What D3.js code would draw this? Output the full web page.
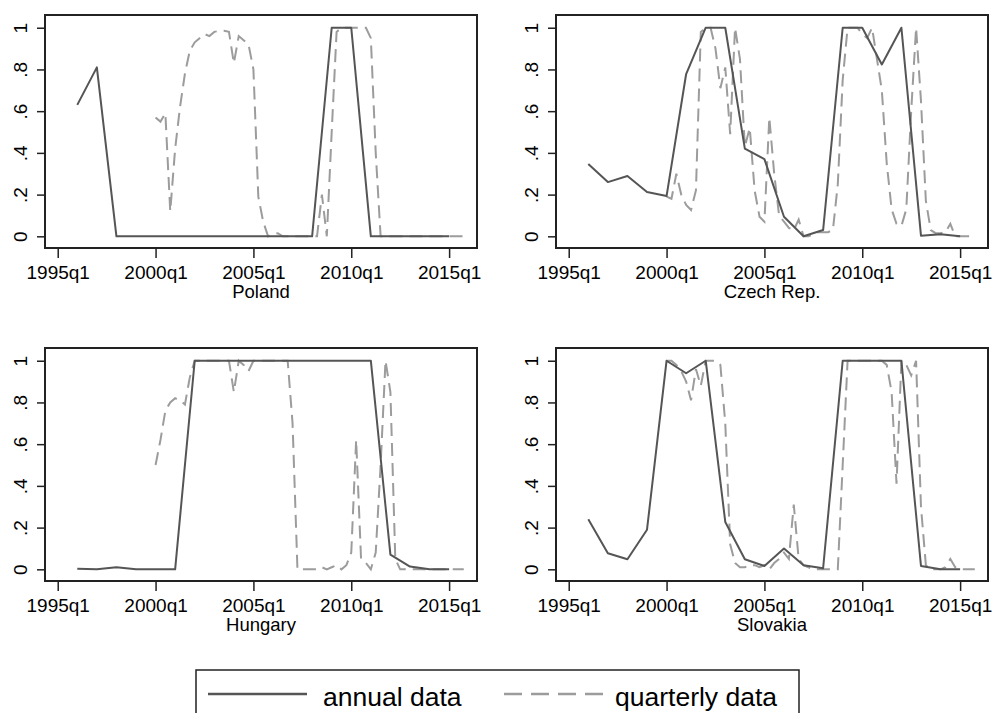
<!DOCTYPE html>
<html>
	<head>
		<meta charset="utf-8">
		<script src="https://d3js.org/d3.v7.min.js"></script>
	</head>
	<body style="margin:0;background:#fff">
		<svg id="chart" width="994" height="713"></svg>
	</body>
	<script>
	// Countries, tick labels and years
	var countries = ["Poland", "Czech Rep.", "Hungary", "Slovakia"];
	var xTickLabels = ["1995q1", "2000q1", "2005q1", "2010q1", "2015q1"];
	var yTickValues = [0, 0.2, 0.4, 0.6, 0.8, 1];
	var yTickLabels = ["0", ".2", ".4", ".6", ".8", "1"];
	var annualYears = [1996, 1997, 1998, 1999, 2000, 2001, 2002, 2003, 2004, 2005,
		2006, 2007, 2008, 2009, 2010, 2011, 2012, 2013, 2014, 2015];
	var quarterYears = [2000, 2001, 2002, 2003, 2004, 2005, 2006, 2007,
		2008, 2009, 2010, 2011, 2012, 2013, 2014, 2015];

	// Annual series (one value per year, 1996-2015)
	var annualPoland = [0.63, 0.81, 0, 0, 0, 0, 0, 0, 0, 0, 0, 0, 0, 1, 1, 0, 0, 0, 0, 0];
	var annualCzech = [0.347, 0.26, 0.289, 0.212, 0.193, 0.778, 1, 1, 0.42, 0.37,
		0.094, 0, 0.03, 1, 1, 0.824, 1, 0.003, 0.01, 0];
	var annualHungary = [0.003, 0, 0.01, 0, 0, 0, 1, 1, 1, 1, 1, 1, 1, 1, 1, 1, 0.07, 0.013, 0, 0];
	var annualSlovakia = [0.24, 0.077, 0.048, 0.19, 1, 0.94, 1, 0.227, 0.048, 0.016,
		0.1, 0.02, 0.005, 1, 1, 1, 1, 0.016, 0, 0];

	// Quarterly series (four values per year, 2000q1-2015q4)
	var quarterlyPoland = [
		0.57, 0.55, 0.59, 0.12,
		0.42, 0.62, 0.78, 0.89,
		0.93, 0.95, 0.97, 0.96,
		0.98, 0.985, 0.985, 0.98,
		0.83, 0.96, 0.94, 0.92,
		0.8, 0.19, 0.07, 0,
		0.01, 0.015, 0, 0,
		0, 0, 0, 0,
		0, 0, 0.2, 0,
		0.5, 0.98, 1, 1,
		1, 1, 1, 1,
		0.95, 0.4, 0, 0,
		0, 0, 0, 0,
		0, 0, 0, 0,
		0, 0, 0, 0,
		0, 0, 0, 0];
	var quarterlyCzech = [
		0.19, 0.18, 0.3, 0.2,
		0.15, 0.126, 0.22, 0.98,
		1, 1, 0.9, 0.71,
		0.81, 0.49, 1, 0.85,
		0.43, 0.52, 0.22, 0.094,
		0.07, 0.57, 0.3, 0.1,
		0.07, 0.04, 0.03, 0.08,
		0, 0, 0.01, 0.02,
		0.02, 0.02, 0.03, 0.25,
		0.75, 1, 1, 1,
		0.97, 0.95, 1, 0.85,
		0.7, 0.35, 0.13, 0.06,
		0.05, 0.13, 0.6, 1,
		0.65, 0.17, 0.03, 0.015,
		0.015, 0.02, 0.06, 0,
		0, 0, 0, 0];
	var quarterlyHungary = [
		0.5, 0.62, 0.76, 0.8,
		0.82, 0.81, 0.79, 0.92,
		1, 1, 1, 1,
		1, 1, 1, 1,
		0.85, 1, 0.98, 0.95,
		1, 1, 1, 1,
		1, 1, 1, 1,
		0.7, 0, 0, 0,
		0, 0, 0.01, 0,
		0.01, 0.02, 0, 0.02,
		0.08, 0.62, 0.05, 0.03,
		0, 0.08, 0.5, 1,
		0.85, 0.05, 0, 0,
		0, 0, 0, 0,
		0, 0, 0, 0,
		0, 0, 0, 0];
	var quarterlySlovakia = [
		1, 1, 0.98, 0.95,
		0.9, 0.81, 0.96, 0.88,
		1, 1, 1, 0.98,
		0.7, 0.12, 0.03, 0.01,
		0.01, 0.02, 0.02, 0.01,
		0.02, 0, 0.03, 0.05,
		0.08, 0.05, 0.31, 0.05,
		0.02, 0.01, 0, 0,
		0, 0, 0, 0,
		0.5, 1, 1, 1,
		1, 1, 1, 1,
		1, 0.98, 0.85, 0.41,
		1, 0.98, 0.93, 1,
		0.3, 0.02, 0, 0,
		0, 0.01, 0.05, 0.01,
		0, 0, 0, 0];

	var annualSeries = [annualPoland, annualCzech, annualHungary, annualSlovakia];
	var quarterlySeries = [quarterlyPoland, quarterlyCzech, quarterlyHungary, quarterlySlovakia];

	// The svg
	var svg = d3.select("#chart");
	var font = "'Liberation Sans', Arial, sans-serif";
	var annualColor = "#555555", quarterlyColor = "#9c9c9c";

	// Panel layout
	var panelW = 432, panelH = 233;
	var panelPos = [[45, 15], [556, 15], [45, 348], [556, 348]];

	// Scales: x in quarters since 1995q1
	var x = d3.scaleLinear().domain([-2.6, 85.7]).range([0, panelW]);
	var y = d3.scaleLinear().domain([-0.056, 1.061]).range([panelH, 0]);

	var line = d3.line()
		.x(function(d){ return x(d[0]) })
		.y(function(d){ return y(d[1]) });

	// quarter index of a year / quarter
	function qIndex(year, q) { return (year - 1995) * 4 + q; }

	var quarterIdx = [];
	quarterYears.forEach(function(yr){
		for (var q = 0; q < 4; q++) quarterIdx.push(qIndex(yr, q));
	});

	countries.forEach(function(name, i){
		var g = svg.append("g")
			.attr("transform", "translate(" + panelPos[i][0] + "," + panelPos[i][1] + ")");

		// quarterly data (dashed)
		var qData = quarterlySeries[i].map(function(v, k){ return [quarterIdx[k], v] });
		g.append("path")
			.attr("d", line(qData))
			.style("fill", "none")
			.style("stroke", quarterlyColor)
			.style("stroke-width", 2)
			.style("stroke-dasharray", "13,7");

		// annual data (solid)
		var aData = annualSeries[i].map(function(v, k){ return [qIndex(annualYears[k], 0), v] });
		g.append("path")
			.attr("d", line(aData))
			.style("fill", "none")
			.style("stroke", annualColor)
			.style("stroke-width", 2)
			.style("stroke-linejoin", "round");

		// frame
		g.append("rect")
			.attr("width", panelW)
			.attr("height", panelH)
			.style("fill", "none")
			.style("stroke", "#222")
			.style("stroke-width", 2);

		// x axis
		var xAxis = g.append("g")
			.attr("transform", "translate(0," + panelH + ")")
			.call(d3.axisBottom(x)
				.tickValues([0, 20, 40, 60, 80])
				.tickFormat(function(d, k){ return xTickLabels[k] })
				.tickSize(10));
		xAxis.select(".domain").remove();
		xAxis.selectAll("line").style("stroke", "#222").style("stroke-width", 1.5);
		xAxis.selectAll("text")
			.attr("y", 31).attr("dy", 0)
			.style("font-family", font).style("font-size", "19px").style("fill", "#000");

		// y axis
		var yAxis = g.append("g")
			.call(d3.axisLeft(y)
				.tickValues(yTickValues)
				.tickFormat(function(d, k){ return yTickLabels[k] })
				.tickSize(8));
		yAxis.select(".domain").remove();
		yAxis.selectAll("line").style("stroke", "#222").style("stroke-width", 1.5);
		yAxis.selectAll("text")
			.attr("x", 0).attr("y", 0).attr("dy", 0)
			.attr("transform", "translate(-18,0) rotate(-90)")
			.attr("text-anchor", "middle")
			.style("font-family", font).style("font-size", "19px").style("fill", "#000");

		// country label
		g.append("text")
			.attr("x", panelW / 2)
			.attr("y", panelH + 50)
			.attr("text-anchor", "middle")
			.style("font-family", font)
			.style("font-size", "18.5px")
			.text(name);
	});

	// Legend
	var legend = svg.append("g");
	legend.append("rect")
		.attr("x", 196).attr("y", 670)
		.attr("width", 603).attr("height", 60)
		.style("fill", "#fff")
		.style("stroke", "#222")
		.style("stroke-width", 1.5);
	legend.append("line")
		.attr("x1", 208).attr("x2", 307).attr("y1", 694).attr("y2", 694)
		.style("stroke", annualColor).style("stroke-width", 2.5);
	legend.append("text")
		.attr("x", 323).attr("y", 706)
		.style("font-family", font).style("font-size", "26.5px")
		.text("annual data");
	legend.append("line")
		.attr("x1", 504).attr("x2", 604).attr("y1", 694).attr("y2", 694)
		.style("stroke", quarterlyColor).style("stroke-width", 2.5)
		.style("stroke-dasharray", "18,9");
	legend.append("text")
		.attr("x", 615).attr("y", 706)
		.style("font-family", font).style("font-size", "26.5px")
		.text("quarterly data");
	</script>
</html>
